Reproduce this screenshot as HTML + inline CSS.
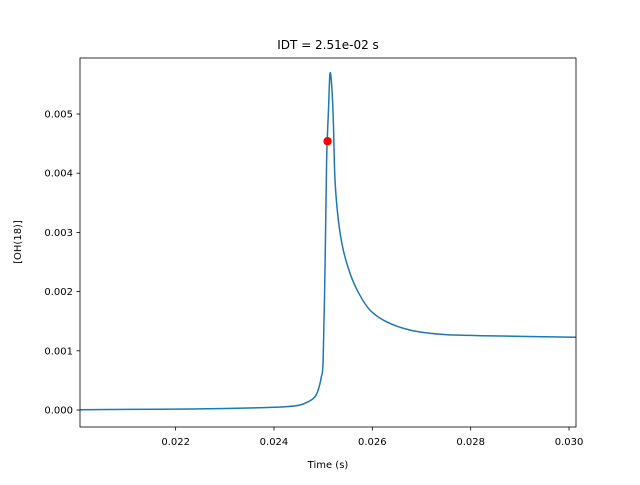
<!DOCTYPE html>
<html><head><meta charset="utf-8"><style>body{margin:0;background:#fff}svg{font-family:"DejaVu Sans","Liberation Sans",sans-serif}</style></head>
<body>
<svg id="chart" width="640" height="480">
<rect width="640" height="480" fill="#fff"/>
</svg>
<script>
const times=[0.02005,0.0210,0.0220,0.0230,0.0238,0.0243,0.02453,0.02470,0.02483,0.02490,0.02496,0.02500,0.02504,0.02507,0.02511,0.02514,0.02518,0.02521,0.02524,0.02531,0.02541,0.02555,0.02572,0.02595,0.02629,0.02677,0.02738,0.0280,0.02860,0.0293,0.03014];
const oh=[0.000005,0.00001,0.000015,0.000025,0.00004,0.00006,0.000085,0.00014,0.00022,0.00034,0.00055,0.00085,0.0025,0.0042,0.0051,0.00569,0.0054,0.0048,0.0039,0.0032,0.0027,0.0023,0.00198,0.00169,0.00149,0.00135,0.00128,0.00126,0.00125,0.00124,0.00123];
const idtT=[0.02509], idtY=[0.00454];
const xTicks=[0.022,0.024,0.026,0.028,0.030], xTickLabels=["0.022","0.024","0.026","0.028","0.030"];
const yTicks=[0,0.001,0.002,0.003,0.004,0.005], yTickLabels=["0.000","0.001","0.002","0.003","0.004","0.005"];
const L=80,R=576,T=58,B=427,xmin=0.020055,xmax=0.030142,ymin=-0.000287,ymax=0.005946;
const X=v=>L+(v-xmin)/(xmax-xmin)*(R-L), Y=v=>B-(v-ymin)/(ymax-ymin)*(B-T);
const svg=document.getElementById('chart'),NS='http://www.w3.org/2000/svg';
function mk(t,a,p){const e=document.createElementNS(NS,t);for(const k in a)e.setAttribute(k,a[k]);(p||svg).appendChild(e);return e;}
const cp=mk('clipPath',{id:'cp'});mk('rect',{x:L,y:T,width:R-L,height:B-T},cp);
// smooth path through points (Catmull-Rom)
const P=times.map((t,i)=>[X(t),Y(oh[i])]);
let d='M'+P[0][0].toFixed(2)+','+P[0][1].toFixed(2);
for(let i=0;i<P.length-1;i++){const p0=P[Math.max(0,i-1)],p1=P[i],p2=P[i+1],p3=P[Math.min(P.length-1,i+2)];
const c1=[p1[0]+(p2[0]-p0[0])/6,p1[1]+(p2[1]-p0[1])/6],c2=[p2[0]-(p3[0]-p1[0])/6,p2[1]-(p3[1]-p1[1])/6];
d+='C'+c1.map(v=>v.toFixed(2))+' '+c2.map(v=>v.toFixed(2))+' '+p2.map(v=>v.toFixed(2));}
const line=mk('path',{d:d,fill:'none',stroke:'#1f77b4','stroke-width':1.5,'clip-path':'url(#cp)','stroke-linejoin':'round'});


idtT.forEach((t,i)=>{const c=mk('circle',{cx:X(t),cy:Y(idtY[i]),r:4.2,fill:'#ff0000'});

});
const fr=mk('rect',{x:L,y:T,width:R-L,height:B-T,fill:'none',stroke:'#000','stroke-width':0.8});


xTicks.forEach((v,i)=>{const g=mk('g',{});


mk('line',{x1:X(v),x2:X(v),y1:B,y2:B+3.5,stroke:'#000','stroke-width':0.8},g);
const t=mk('text',{x:X(v),y:B+18,'font-size':10,'text-anchor':'middle'},g);t.textContent=xTickLabels[i];});
yTicks.forEach((v,i)=>{const g=mk('g',{});


mk('line',{x1:L-3.5,x2:L,y1:Y(v),y2:Y(v),stroke:'#000','stroke-width':0.8},g);
const t=mk('text',{x:L-7,y:Y(v)+3.5,'font-size':10,'text-anchor':'end'},g);t.textContent=yTickLabels[i];});
const xt=mk('text',{x:328,y:468,'font-size':10,'text-anchor':'middle'});xt.textContent='Time (s)';


const yt=mk('text',{x:21,y:242,'font-size':10,'text-anchor':'middle',transform:'rotate(-90 21 242)'});yt.textContent='[OH(18)]';


const tt=mk('text',{x:328,y:49,'font-size':12,'text-anchor':'middle'});tt.textContent='IDT = 2.51e-02 s';


</script>
</body></html>
